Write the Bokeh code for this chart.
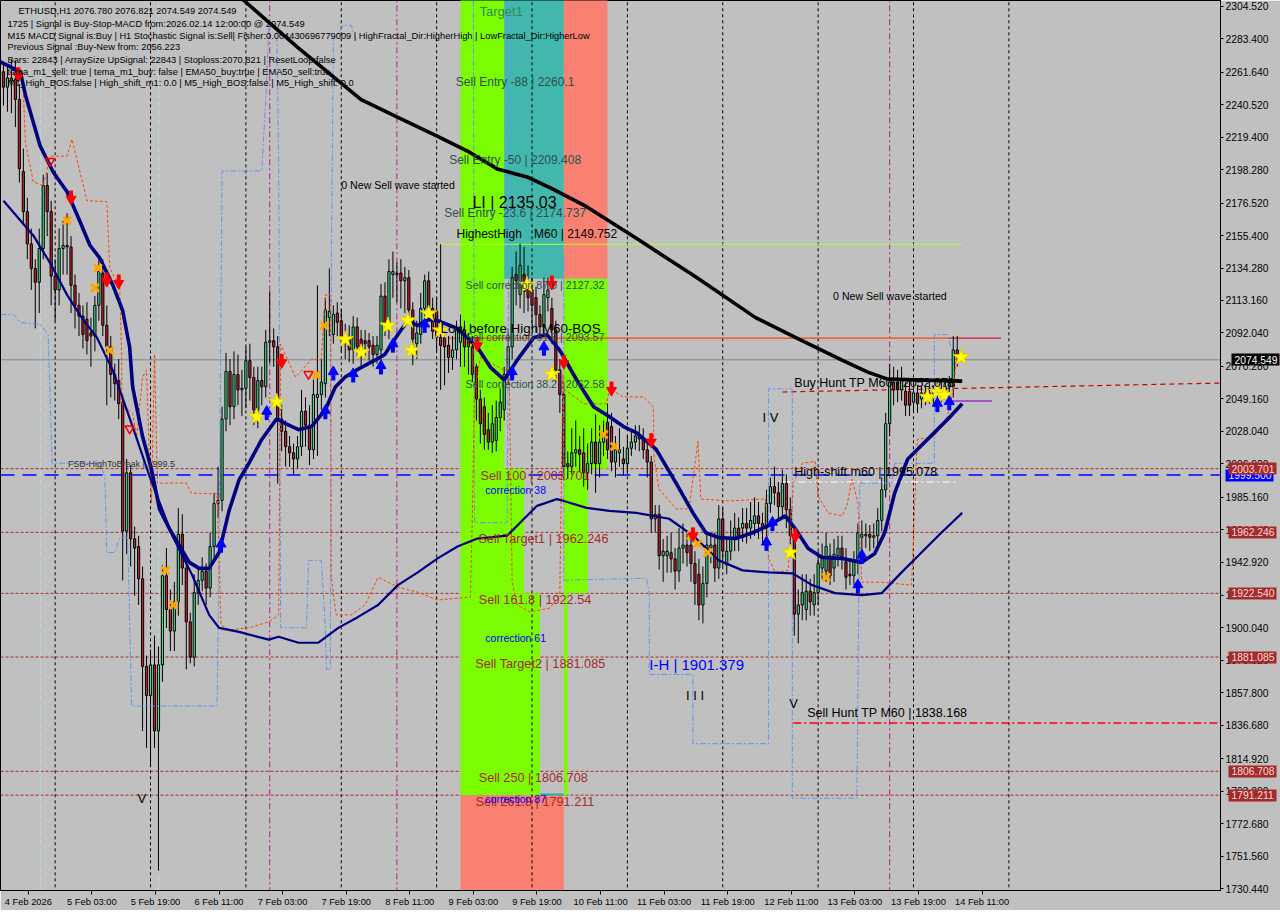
from bokeh.plotting import figure
from bokeh.models import (Range1d, FixedTicker, PrintfTickFormatter, Label, Span, ColumnDataSource,
                          LinearAxis)
from bokeh.embed import file_html
from bokeh.resources import INLINE

FONT = "Liberation Sans"

# ---------------- DATA ----------------
opens = [
2262, 2252, 2258, 2257, 2244, 2197, 2171, 2150, 2134, 2125,
2147, 2188, 2171, 2129, 2120, 2147, 2149, 2148, 2123, 2110,
2103, 2101, 2092, 2090, 2110, 2131, 2097, 2083, 2065, 2061,
2047, 1963, 2001, 1958, 1953, 1932, 1875, 1856, 1876, 1833,
1876, 1934, 1912, 1898, 1917, 1961, 1939, 1904, 1881, 1923,
1931, 1937, 1926, 1953, 1981, 1983, 2036, 2067, 2044, 2065,
2055, 2056, 2074, 2063, 2042, 2061, 2057, 2086, 2087, 2083,
2036, 2028, 2018, 2014, 2010, 2018, 2041, 2032, 2016, 2050,
2052, 2059, 2102, 2091, 2105, 2100, 2089, 2089, 2081, 2096,
2088, 2087, 2087, 2084, 2078, 2081, 2116, 2097, 2130, 2131,
2131, 2126, 2128, 2107, 2085, 2091, 2108, 2126, 2108, 2106,
2089, 2089, 2084, 2076, 2081, 2086, 2094, 2087, 2083, 2070,
2049, 2044, 2029, 2021, 2022, 2037, 2042, 2065, 2083, 2130,
2117, 2130, 2123, 2120, 2115, 2104, 2096, 2115, 2108, 2094,
2068, 2052, 2007, 2005, 2014, 2016, 2014, 2001, 2007, 2021,
2007, 2021, 2034, 2031, 2008, 2014, 2010, 2007, 2017, 2021,
2025, 2023, 2016, 2008, 1971, 1974, 1947, 1947, 1949, 1945,
1937, 1952, 1954, 1954, 1942, 1935, 1915, 1929, 1952, 1954,
1939, 1971, 1941, 1950, 1959, 1965, 1965, 1968, 1965, 1968,
1973, 1968, 1965, 1981, 1992, 1988, 1979, 1994, 1977, 1960,
1909, 1915, 1912, 1924, 1915, 1923, 1939, 1937, 1947, 1939,
1947, 1952, 1943, 1935, 1934, 1943, 1959, 1960, 1961, 1959,
1960, 1970, 1990, 2033, 2060, 2060, 2055, 2054, 2054, 2047,
2053, 2049, 2052, 2052, 2051, 2053, 2052, 2055, 2057, 2057, 2081, 2076.780]

highs = [
2268, 2266, 2270, 2269, 2254, 2212, 2180, 2160, 2140, 2160,
2195, 2196, 2178, 2140, 2160, 2165, 2170, 2155, 2130, 2118,
2110, 2112, 2102, 2116, 2140, 2140, 2110, 2090, 2072, 2075,
2052, 2010, 2006, 1966, 1960, 1940, 1882, 1886, 1895, 1888,
1941, 1952, 1925, 1930, 1978, 1974, 1945, 1910, 1935, 1940,
1946, 1942, 1962, 1988, 2005, 2044, 2079, 2075, 2080, 2078,
2068, 2083, 2085, 2070, 2070, 2070, 2094, 2119, 2095, 2090,
2045, 2035, 2025, 2020, 2025, 2055, 2050, 2045, 2062, 2123,
2075, 2115, 2134, 2110, 2112, 2107, 2098, 2097, 2103, 2102,
2094, 2094, 2092, 2090, 2090, 2124, 2125, 2140, 2145, 2138,
2140, 2135, 2133, 2112, 2100, 2118, 2130, 2132, 2115, 2115,
2149.75, 2095, 2090, 2090, 2100, 2104, 2100, 2092, 2090, 2072,
2055, 2050, 2040, 2045, 2048, 2056, 2070, 2095, 2135, 2145,
2150, 2148, 2136, 2128, 2122, 2110, 2128, 2128, 2115, 2100,
2075, 2060, 2015, 2030, 2035, 2025, 2030, 2020, 2030, 2039,
2032, 2035, 2046, 2040, 2025, 2030, 2018, 2025, 2028, 2032,
2032, 2030, 2022, 2012, 1980, 1980, 1958, 1960, 1962, 1952,
1965, 1968, 1963, 1960, 1950, 1945, 1940, 1962, 1960, 1962,
1980, 1978, 1958, 1970, 1975, 1972, 1978, 1978, 1982, 1985,
1982, 1975, 1990, 1998, 2005, 1995, 2003, 2000, 1985, 1966,
1925, 1935, 1935, 1932, 1935, 1950, 1955, 1962, 1955, 1958,
1960, 1960, 1952, 1945, 1950, 1968, 1970, 1968, 1967, 1968,
1978, 1998, 2040, 2072, 2070, 2068, 2070, 2060, 2062, 2060,
2058, 2058, 2058, 2060, 2058, 2060, 2060, 2062, 2064, 2090, 2090, 2076.821]

lows = [
2240, 2236, 2235, 2226, 2190, 2162, 2140, 2120, 2095, 2105,
2140, 2155, 2110, 2100, 2110, 2130, 2130, 2105, 2095, 2090,
2082, 2078, 2070, 2080, 2100, 2090, 2045, 2050, 2048, 2036,
1931, 1948, 1940, 1921, 1915, 1833, 1822, 1810, 1822, 1742,
1865, 1900, 1885, 1885, 1908, 1928, 1873, 1877, 1875, 1915,
1924, 1915, 1920, 1945, 1972, 1976, 2028, 2032, 2036, 2045,
2038, 2043, 2048, 2032, 2030, 2045, 2050, 2072, 2070, 1994,
2015, 2005, 2005, 2000, 2004, 2012, 2018, 2006, 2010, 2012,
2042, 2050, 2090, 2085, 2090, 2080, 2075, 2073, 2072, 2075,
2070, 2075, 2074, 2070, 2072, 2074, 2090, 2088, 2115, 2112,
2108, 2105, 2098, 2071, 2075, 2085, 2100, 2100, 2088, 2080,
2055, 2058, 2066, 2068, 2075, 2070, 2070, 2065, 2060, 2035,
2020, 2016, 2016, 2014, 2015, 2028, 2035, 2058, 2075, 2110,
2108, 2105, 2106, 2098, 2092, 2088, 2090, 2106, 2085, 2060,
2040, 1996, 1997, 2000, 2005, 2002, 1992, 1990, 2000, 1988,
1998, 2012, 2010, 2002, 1998, 2005, 1999, 2000, 2012, 2016,
2015, 2010, 1998, 1962, 1962, 1938, 1930, 1936, 1936, 1925,
1930, 1942, 1940, 1930, 1915, 1905, 1903, 1920, 1942, 1930,
1932, 1940, 1935, 1944, 1950, 1950, 1956, 1955, 1958, 1960,
1958, 1955, 1958, 1975, 1980, 1970, 1972, 1965, 1950, 1895,
1890, 1905, 1905, 1908, 1908, 1915, 1932, 1930, 1928, 1930,
1940, 1938, 1925, 1928, 1928, 1935, 1950, 1952, 1950, 1952,
1954, 1963, 1985, 2025, 2045, 2047, 2048, 2038, 2038, 2040,
2040, 2043, 2045, 2046, 2045, 2048, 2047, 2050, 2052, 2050, 2070, 2074.549]

closes = [
2252, 2258, 2256, 2244, 2199, 2171, 2150, 2134, 2125, 2147,
2188, 2171, 2129, 2120, 2147, 2149, 2148, 2123, 2110, 2103,
2091, 2087, 2090, 2110, 2132, 2097, 2083, 2065, 2059, 2046,
1963, 2001, 1958, 1952, 1932, 1875, 1856, 1876, 1833, 1876,
1934, 1912, 1898, 1917, 1961, 1939, 1904, 1881, 1923, 1931,
1937, 1926, 1953, 1981, 1983, 2036, 2067, 2044, 2065, 2055,
2056, 2074, 2063, 2042, 2061, 2057, 2086, 2087, 2083, 2036,
2028, 2018, 2014, 2010, 2018, 2041, 2032, 2016, 2052, 2052,
2060, 2107, 2106, 2104, 2099, 2089, 2088, 2081, 2096, 2083,
2079, 2085, 2083, 2078, 2084, 2116, 2097, 2132, 2132, 2130,
2126, 2128, 2107, 2088, 2092, 2108, 2126, 2108, 2093, 2089,
2084, 2083, 2076, 2081, 2094, 2096, 2083, 2083, 2065, 2049,
2033, 2026, 2021, 2033, 2037, 2047, 2065, 2083, 2128, 2126,
2136, 2119, 2115, 2110, 2104, 2096, 2117, 2120, 2094, 2068,
2052, 2005, 2005, 2014, 2016, 2013, 2001, 2007, 2021, 2007,
2021, 2027, 2016, 2008, 2016, 2016, 2007, 2017, 2021, 2025,
2023, 2016, 2008, 1971, 1974, 1947, 1950, 1950, 1945, 1937,
1952, 1954, 1949, 1942, 1929, 1915, 1929, 1954, 1954, 1939,
1971, 1950, 1950, 1959, 1965, 1959, 1968, 1965, 1970, 1973,
1968, 1965, 1981, 1992, 1988, 1979, 1994, 1977, 1960, 1909,
1915, 1923, 1924, 1917, 1923, 1942, 1947, 1953, 1934, 1948,
1952, 1946, 1933, 1934, 1943, 1962, 1961, 1961, 1959, 1960,
1970, 1990, 2033, 2060, 2055, 2055, 2062, 2045, 2045, 2053,
2046, 2053, 2053, 2053, 2053, 2055, 2055, 2057, 2060, 2081, 2076.8, 2074.549]

# bar index axis (hourly bars from 4 Feb 11:00)
tick_bars = [0, 16, 32, 48, 64, 80, 96, 112, 128, 144, 160, 176, 192, 208, 224, 240]
tick_labels = ["4 Feb 2026", "5 Feb 03:00", "5 Feb 19:00", "6 Feb 11:00", "7 Feb 03:00",
               "7 Feb 19:00", "8 Feb 11:00", "9 Feb 03:00", "9 Feb 19:00", "10 Feb 11:00",
               "11 Feb 03:00", "11 Feb 19:00", "12 Feb 11:00", "13 Feb 03:00", "13 Feb 19:00",
               "14 Feb 11:00"]
price_ticks = [2304.52, 2283.40, 2261.64, 2240.52, 2219.40, 2198.28, 2176.52, 2155.40, 2134.28,
               2113.16, 2092.04, 2070.28, 2049.16, 2028.04, 2006.92, 1985.16, 1964.04, 1942.92,
               1921.16, 1900.04, 1878.92, 1857.80, 1836.68, 1814.92, 1793.80, 1772.68, 1751.56,
               1730.44]
day_starts = [13, 37, 61, 85, 109, 133, 157, 181, 205, 229, 253]
cyan_bars = [9.25, 39]
magenta_bars = [67, 99, 223]

# moving averages (bar, price) samples
black_ma_x = [57.25, 60.5, 74.25, 90, 99.25, 109.25, 116.75, 124.25, 131.75, 138, 146.75,
              159.25, 174.25, 189.25, 199.25, 211, 217.5, 222.5, 241.25]
black_ma_y = [2315.5, 2308.4, 2277.4, 2243.9, 2232.3, 2220.0, 2210.4, 2198.8, 2193.6, 2185.9,
              2174.2, 2153.6, 2128.4, 2102.0, 2089.1, 2074.3, 2066.5, 2062.0, 2060.7]
fast_x = [-0.75, 4.25, 5.5, 9.25, 12.5, 16, 19.25, 21.75, 24.25, 27.5, 30, 31.75, 32.5, 35, 37.25,
          39.25, 41.75, 44.25, 46.75, 49.25, 51.75, 54.25, 56.75, 59.25, 61.75, 65, 68.75, 71,
          74.25, 77.5, 81, 83.5, 86, 89.25, 93.5, 96, 99.25, 101.75, 104.25, 106.75, 109.25,
          114.25, 119.25, 122.5, 126, 129.25, 133.5, 136.75, 140, 144.25, 148.5, 152.5, 156,
          159.25, 164.25, 169.25, 173.5, 176.75, 180, 184.25, 188.5, 192.5, 196.75, 199.25,
          202.5, 206, 211, 216, 219.25, 221.75, 224.25, 227.5, 232.5, 237.5, 241.25]
fast_y = [2268.4, 2262.0, 2247.1, 2213.6, 2196.8, 2183.9, 2164.6, 2149.1, 2140.7, 2123.3, 2106.5,
          2082.7, 2056.9, 2024.6, 2003.3, 1977.5, 1964.6, 1953.7, 1942.7, 1938.8, 1938.8, 1949.1,
          1976.2, 1996.2, 2007.2, 2022.7, 2036.2, 2033.0, 2029.1, 2031.1, 2042.0, 2056.9, 2063.3,
          2068.5, 2074.3, 2078.1, 2091.0, 2100.1, 2096.8, 2100.7, 2100.1, 2094.9, 2082.7, 2069.8,
          2061.4, 2074.3, 2089.1, 2091.0, 2080.7, 2061.4, 2044.0, 2037.5, 2031.1, 2027.2, 2016.2,
          1994.3, 1974.9, 1962.0, 1958.8, 1958.2, 1962.0, 1966.6, 1973.0, 1964.6, 1951.7, 1945.9,
          1945.3, 1942.7, 1948.5, 1962.0, 1987.8, 2009.8, 2022.7, 2035.6, 2045.9]
slow_x = [0, 7.5, 11.75, 16, 20, 23.5, 27.5, 32.5, 36.75, 42.5, 47.5, 51.75, 54.25, 59.25, 66.75,
          69.25, 74.25, 79.25, 84.25, 89.25, 94.25, 99.25, 104.25, 109.25, 114.25, 119.25,
          126.75, 131, 134.25, 139.25, 141, 146.75, 152.5, 159.25, 167.5, 173.5, 180, 186,
          192.5, 198.5, 203.5, 209.25, 216, 221, 226, 231, 236, 241.25]
slow_y = [2178.1, 2155.5, 2137.5, 2116.8, 2100.7, 2089.1, 2067.8, 2031.1, 1998.8, 1960.1, 1934.3,
          1908.5, 1900.1, 1897.5, 1892.4, 1894.3, 1890.4, 1890.4, 1900.1, 1907.2, 1915.0, 1927.9,
          1936.2, 1945.3, 1953.0, 1958.2, 1960.1, 1971.1, 1979.5, 1983.9, 1982.7, 1978.2, 1976.2,
          1974.9, 1971.1, 1960.1, 1944.0, 1937.5, 1936.2, 1935.6, 1927.9, 1922.7, 1921.4, 1922.7,
          1936.2, 1949.1, 1962.0, 1974.9]
orange_x = [5, 5.5, 7.5, 10, 11.75, 16, 17.25, 19.25, 21, 26, 26.75, 29.25, 29.75, 29.75, 32.5,
            33.5, 35, 36, 36.75, 37.25, 38, 38.75, 46, 47.25, 53.75, 54.75, 56.75, 61.75, 66.75,
            69.25, 69.75, 73.5, 77.5, 80, 81, 82.25, 82.5, 83.75, 87.5, 91, 94.25, 99.25, 104.25,
            109.25, 117.5, 118, 118.5, 120, 126, 127.25, 128, 129.25, 132.5, 137.5, 140, 140.75,
            141, 146, 151.75, 152.5, 156, 161, 163.5, 163.75, 165, 169.25, 172.5, 174.75, 175.5,
            182.5, 191.75, 192.5, 194.25, 197.5, 198.75, 201, 204.25, 205, 207.5, 211, 212.25,
            213.5, 215, 216, 221, 228.5, 228.75, 229.75, 230, 234.25, 237.5, 239.25, 239.75]
orange_y = [2250.4, 2216.2, 2190.4, 2187.8, 2207.1, 2207.1, 2218.1, 2196.8, 2178.1, 2177.5,
            2134.3, 2121.4, 2076.2, 2045.9, 2039.4, 2024.6, 2063.3, 2067.8, 2007.2, 1981.4,
            2078.1, 1994.3, 1994.3, 1987.8, 1987.2, 1902.1, 1898.8, 1900.1, 1904.0, 1908.5,
            2084.6, 2063.3, 2074.9, 2074.9, 2116.8, 2116.8, 1932.4, 1908.5, 1908.5, 1915.0,
            1933.0, 1926.6, 1923.3, 1918.2, 1920.1, 1975.0, 2052.3, 2076.2, 2067.8, 2069.8,
            1929.8, 1915.0, 1910.4, 1913.0, 1921.4, 2065.2, 2055.6, 2045.9, 2045.9, 2055.6,
            2050.4, 2050.4, 2044.0, 2009.8, 1990.4, 1977.5, 1977.5, 2021.4, 1984.0, 1982.7,
            1984.0, 1945.3, 1936.2, 1937.5, 1994.3, 2007.2, 2008.5, 1985.9, 1974.9, 1973.0,
            1979.5, 1996.9, 1981.4, 1929.8, 1929.8, 1927.9, 1942.7, 2011.7, 2022.7, 2024.6,
            2037.5, 2058.8, 2078.1]
blue1_x = [-0.75, 2.5, 4.25, 9.25, 11.25, 12.25, 24.25, 25.5, 26, 28, 29.25, 31.25, 32.25, 53.75,
           54.25, 55, 65, 66, 66.75, 68.75, 69.25, 69.75, 76.25, 76.75, 80, 81, 81.25, 82.25, 82.5,
           83, 85.5, 87.5, 88.75]
blue1_y = [2104.0, 2104.0, 2098.8, 2097.5, 2091.0, 2007.2, 2007.2, 1998.8, 1949.1, 1949.1, 1958.8,
           1958.8, 1849.2, 1849.2, 1951.7, 2197.5, 2197.5, 2243.9, 2291.0, 2291.0, 2205.2, 1900.1,
           1900.1, 1944.0, 1944.0, 1900.1, 1873.0, 1873.0, 2134.3, 2282.6, 2292.3, 2292.3, 2282.6]
blue2_x = [118.25, 118.5, 126.75, 127.5]
blue2_y = [2308.4, 1968.5, 1968.5, 2308.4]
blue3_x = [141, 141, 161.75, 162.5, 162.5, 173.5, 173.5, 192.5, 192.5, 198.5, 198.5, 214.75,
           215.5, 223.5, 224.25, 234.25, 234.25, 237.5, 238.5]
blue3_y = [2142.6, 1931.1, 1932.4, 1923.3, 1869.8, 1869.8, 1824.7, 1824.7, 2055.6, 2055.6, 1789.2,
           1789.2, 1994.3, 1994.3, 2007.2, 2007.2, 2091.0, 2091.0, 2081.4]

# signal markers (bar, price)
sell_arrow_x = [3.75, 17, 26, 29, 70, 119.25, 138, 141, 153, 163, 173.5, 199.25]
sell_arrow_y = [2261.4, 2181.3, 2127.8, 2126.5, 2074.9, 2085.9, 2125.9, 2074.3, 2056.9, 2023.3, 1962.0, 1961.4]
hollow_x = [11.75, 31.75, 76.75]
hollow_y = [2203.9, 2029.8, 2065.2]
buy_arrow_x = [54.75, 66.25, 81, 83, 88, 95, 98, 106, 128, 136, 192, 193.5, 215, 216, 235, 238]
buy_arrow_y = [1952.4, 2038.8, 2039.4, 2064.6, 2063.3, 2068.5, 2082.7, 2095.6, 2064.6, 2080.7,
               1953.7, 1966.6, 1925.9, 1945.3, 2044.0, 2045.2]
star_x = [63.75, 68.75, 86, 90, 96.75, 101.75, 102.75, 107, 110, 131.75, 138, 198, 232.5, 235, 236.75, 241]
star_y = [2037.5, 2047.2, 2087.8, 2079.4, 2096.8, 2100.1, 2080.7, 2104.6, 2093.6, 2123.3, 2065.2,
          1949.1, 2050.4, 2053.6, 2051.7, 2076.2]
cross_x = [16, 23.75, 23, 26.75, 40.75, 42.75, 80.75, 78.75, 151, 153.75, 173, 174.75, 177.25, 207]
cross_y = [2165.2, 2134.3, 2121.4, 2080.7, 1937.5, 1915.0, 2096.8, 2064.6, 2025.9, 2018.2, 1960.1,
           1954.9, 1949.1, 1933.0]

# zones
zone_left = [115, 126, 126, 126, 141, 141, 141, 141, 115]
zone_right = [126, 131, 135, 141, 152, 152, 147, 142, 141]
zone_bottom = [1791.211, 1922.54, 1791.211, 2127.32, 2127.32, 2003.701, 1922.54, 1791.211, 1700]
zone_top = [2330, 2003.701, 1922.54, 2330, 2330, 2127.32, 2003.701, 1922.54, 1791.211]
zone_color = ["#7CFC00", "#7CFC00", "#7CFC00", "#42B8AC", "#FA8072", "#7CFC00", "#7CFC00",
              "#7CFC00", "#FA8072"]

# level lines and their price tags
level_prices = [2003.701, 1962.246, 1922.540, 1881.085, 1806.708, 1791.211]
fsb_level = 1999.500
bid = 2074.549

# ---------------- FIGURE ----------------
p = figure(frame_width=1220, frame_height=890,
           x_range=Range1d(-0.75, 306.25), y_range=Range1d(1729.15, 2308.4),
           output_backend="svg", toolbar_location=None, y_axis_location="right",
           min_border_left=0, min_border_top=0, min_border_right=50, min_border_bottom=20,
           background_fill_color="#C0C0C0", border_fill_color="#C0C0C0",
           outline_line_color="black")
p.grid.visible = False

p.quad(left=zone_left, right=zone_right, bottom=zone_bottom, top=zone_top,
       fill_color=zone_color, line_color=None)

n = len(day_starts)
p.segment(x0=day_starts, y0=[1700] * n, x1=day_starts, y1=[2330] * n,
          line_color="black", line_dash="3 3", line_width=1)
p.segment(x0=cyan_bars, y0=[1700] * 2, x1=cyan_bars, y1=[2330] * 2,
          line_color="#B0E0E6", line_dash="6 3", line_width=1)
p.segment(x0=magenta_bars, y0=[1700] * 3, x1=magenta_bars, y1=[2330] * 3,
          line_color="#C71585", line_dash="6 3 2 3", line_width=1)

for lv in level_prices:
    p.add_layout(Span(location=lv, dimension="width", line_color="#A52A2A",
                      line_dash="3 2", line_width=1, level="underlay"))
p.add_layout(Span(location=fsb_level, dimension="width", line_color="#0000FF",
                  line_dash="14 8", line_width=1.5, level="underlay"))
p.add_layout(Span(location=bid, dimension="width", line_color="#778899", line_width=1,
                  level="underlay"))

# partial lines
p.line([112, 237.5], [2088.6, 2088.6], line_color="#FF4500", line_width=1.3)
p.line([237.5, 251], [2088.6, 2088.6], line_color="#DC143C", line_width=1.3)
p.line([109.25, 241.25], [2149.752, 2149.752], line_color="#ADFF2F", line_width=1)
p.line([196, 240], [1995.078, 1995.078], line_color="white", line_dash="8 3 2 3", line_width=1)
p.line([198.75, 306.25], [1838.168, 1838.168], line_color="#FF0000", line_dash="8 3 2 3", line_width=1.5)
p.line([196, 306.25], [2053.6, 2059.4], line_color="#CC0000", line_dash="5 4", line_width=1.2)
p.line([237.5, 248.75], [2047.8, 2047.8], line_color="#9932CC", line_width=1.5)
p.line([135, 141], [1791.6, 1791.6], line_color="#20B2AA", line_width=2)

# candles
colors = ["#3DE08A" if c >= o else "#C41E2E" for o, c in zip(opens, closes)]
src = ColumnDataSource(dict(x=list(range(len(opens))), o=opens, h=highs, l=lows, c=closes,
                            top=[max(o, c) for o, c in zip(opens, closes)],
                            bottom=[min(o, c) for o, c in zip(opens, closes)], color=colors))
p.segment(x0="x", y0="l", x1="x", y1="h", source=src, line_color="black", line_width=1)
p.vbar(x="x", width=0.55, top="top", bottom="bottom", source=src, fill_color="color",
       line_color="black", line_width=1)

# indicator lines
p.line(blue1_x, blue1_y, line_color="#6495ED", line_dash="6 2 2 2", line_width=1)
p.line(blue2_x, blue2_y, line_color="#6495ED", line_dash="6 2 2 2", line_width=1)
p.line(blue3_x, blue3_y, line_color="#6495ED", line_dash="6 2 2 2", line_width=1)
p.line(orange_x, orange_y, line_color="#FF4500", line_dash="3 2", line_width=1)
p.line(slow_x, slow_y, line_color="#000080", line_width=2.2)
p.line(fast_x, fast_y, line_color="#000080", line_width=3.6)
p.line(black_ma_x, black_ma_y, line_color="black", line_width=3.6)

# markers
p.scatter(cross_x, cross_y, marker="x", size=11, line_color="#FFA500", line_width=3)
p.scatter(star_x, star_y, marker="star", size=17, fill_color="#FFFF00", line_color="#E8D000")
p.segment(x0=sell_arrow_x, y0=[v + 3.5 for v in sell_arrow_y], x1=sell_arrow_x,
          y1=[v - 0.5 for v in sell_arrow_y], line_color="#FF0000", line_width=4)
p.scatter(sell_arrow_x, [v - 2.2 for v in sell_arrow_y], marker="inverted_triangle", size=10,
          fill_color="#FF0000", line_color="#FF0000")
p.segment(x0=buy_arrow_x, y0=[v - 3.5 for v in buy_arrow_y], x1=buy_arrow_x,
          y1=[v + 0.5 for v in buy_arrow_y], line_color="#0000FF", line_width=4)
p.scatter(buy_arrow_x, [v + 2.2 for v in buy_arrow_y], marker="triangle", size=10,
          fill_color="#0000FF", line_color="#0000FF")
p.scatter(hollow_x, hollow_y, marker="inverted_triangle", size=9, fill_color=None,
          line_color="#FF0000", line_width=1.5)


def lab(x, y, text, size, color="black", align="left", baseline="middle"):
    p.add_layout(Label(x=x, y=y, text=text, text_font=FONT, text_font_size=f"{size}px",
                       text_color=color, text_align=align, text_baseline=baseline))


# info block
header = "ETHUSD,H1  2076.780 2076.821 2074.549 2074.549"
info_lines = [
    "1725 | Signal is Buy-Stop-MACD from:2026.02.14 12:00:00 @ 2074.549",
    "M15 MACD Signal is:Buy | H1 Stochastic Signal is:Sell| Fisher:0.004430696779009 | HighFractal_Dir:HigherHigh | LowFractal_Dir:HigherLow",
    "Previous Signal :Buy-New from: 2056.223",
    "Bars: 22843 | ArraySize UpSignal: 22843 | Stoploss:2070.821 | ResetLoop:false",
    "tema_m1_sell: true | tema_m1_buy: false | EMA50_buy:true | EMA50_sell:true",
    "M1_High_BOS:false | High_shift_m1: 0.0 | M5_High_BOS:false | M5_High_shift: 0.0",
]
info_y = [2292.9, 2285.2, 2278.1, 2269.7, 2262.0, 2254.9]
lab(3.75, 2301.3, header, 9.3)
for t, yy in zip(info_lines, info_y):
    lab(1.0, yy, t, 9.3)

# zone texts
lab(125.25, 2301.3, "Target1", 13, color="#2E8B57", align="center")
entry_texts = ["Sell Entry -88 | 2260.1", "Sell Entry -50 | 2209.408", "Sell Entry -23.6 | 2174.737"]
entry_levels = [2260.1, 2209.408, 2174.737]
for t, lv in zip(entry_texts, entry_levels):
    lab(128.75, lv, t, 12, color="#2F4F4F", align="center", baseline="top")
corr_texts = ["Sell correction 87.0 | 2127.32", "Sell correction 61.8 | 2093.57",
              "Sell correction 38.2 | 2062.58"]
corr_levels = [2127.32, 2093.57, 2062.58]
for t, lv in zip(corr_texts, corr_levels):
    lab(133.75, lv, t, 10.7, color="#2F4F4F", align="center", baseline="top")
sell_texts = ["Sell 100 | 2003.701", "Sell Target1 | 1962.246", "Sell 161.8 | 1922.54",
              "Sell Target2 | 1881.085", "Sell  250 | 1806.708", "Sell 261.8 | 1791.211"]
sell_levels = [2003.701, 1962.246, 1922.54, 1881.085, 1806.708, 1791.211]
sell_centers = [133.75, 135.9, 133.75, 135.1, 133.75, 133.75]
for t, lv, cx in zip(sell_texts, sell_levels, sell_centers):
    lab(cx, lv, t, 12.7, color="#A52A2A", align="center", baseline="top")
corr_blue = ["correction 38", "correction 61", "correction 87"]
corr_blue_y = [1989.8, 1893.7, 1788.5]
for t, yy in zip(corr_blue, corr_blue_y):
    lab(121.25, yy, t, 10.5, color="#0000FF")

lab(118, 2177.1, "LI | 2135.03", 16)
lab(114, 2156.5, "HighestHigh", 12)
lab(133.5, 2156.5, "M60 | 2149.752", 12)
lab(85, 2188.4, "0 New Sell wave started", 10.6)
lab(208.75, 2116.2, "0 New Sell wave started", 10.6)
lab(110, 2094.9, "Low before High M60-BOS", 13.4)
lab(16.25, 2006.5, "FSB-HighToBreak | 1999.5", 9, color="#333333")
lab(199, 2059.4, "Buy Hunt TP M60 | 2052.078", 12.5)
lab(199, 2001.4, "High-shift m60 | 1995.078", 12.5)
lab(202.25, 1844.6, "Sell Hunt TP M60 | 1838.168", 12.5)
lab(162.5, 1876.3, "I-H | 1901.379", 15, color="#0000FF")
lab(191, 2036.8, "I V", 13)
lab(171.75, 1856.3, "I I I", 13)
lab(197.75, 1851.1, "V", 13)
lab(33.75, 1789.2, "V", 13)

# ---------------- AXES ----------------
yax = p.yaxis[0]
yax.ticker = FixedTicker(ticks=price_ticks)
yax.formatter = PrintfTickFormatter(format="%.3f")
yax.major_label_text_font = FONT
yax.major_label_text_font_size = "10.3px"
yax.major_label_text_color = "black"
yax.minor_tick_line_color = None
yax.major_tick_in = 0
yax.major_tick_out = 3
yax.major_label_standoff = 2
yax.axis_line_color = "black"
yax.major_tick_line_color = "black"

# price tags: extra right axes (zero width) whose thick ticks form the coloured boxes and
# whose labels are pulled back over the price column
tag_groups = [([fsb_level], "#0000FF", "#E6E6FF"),
              (level_prices, "#A52A2A", "#F5DCDC"),
              ([bid], "#000000", "#FFFFFF")]
for prices, bg, fg in tag_groups:
    ax = LinearAxis(ticker=FixedTicker(ticks=prices), formatter=PrintfTickFormatter(format="%.3f"),
                    axis_line_color=None, minor_tick_line_color=None,
                    major_tick_line_color=bg, major_tick_line_width=12, major_tick_line_cap="butt",
                    major_tick_in=46, major_tick_out=2, major_label_standoff=-45,
                    major_label_text_font=FONT, major_label_text_font_size="10.3px",
                    major_label_text_color=fg)
    p.add_layout(ax, "right")

# MT4 draws each date label starting at its bar: place the centred tick label half a label to the right
LABEL_SHIFT = 6.25
x_ticks = [b + LABEL_SHIFT for b in tick_bars]
xax = p.xaxis[0]
xax.ticker = FixedTicker(ticks=x_ticks)
xax.major_label_overrides = {t: s for t, s in zip(x_ticks, tick_labels)}
xax.major_label_text_font = FONT
xax.major_label_text_font_size = "9.3px"
xax.major_label_text_color = "black"
xax.minor_tick_line_color = None
xax.major_tick_in = 0
xax.major_tick_out = 4
xax.major_label_standoff = 2
xax.axis_line_color = "black"
xax.major_tick_line_color = "black"

open("out.html", "w").write(file_html(p, INLINE, title="ETHUSD,H1"))
